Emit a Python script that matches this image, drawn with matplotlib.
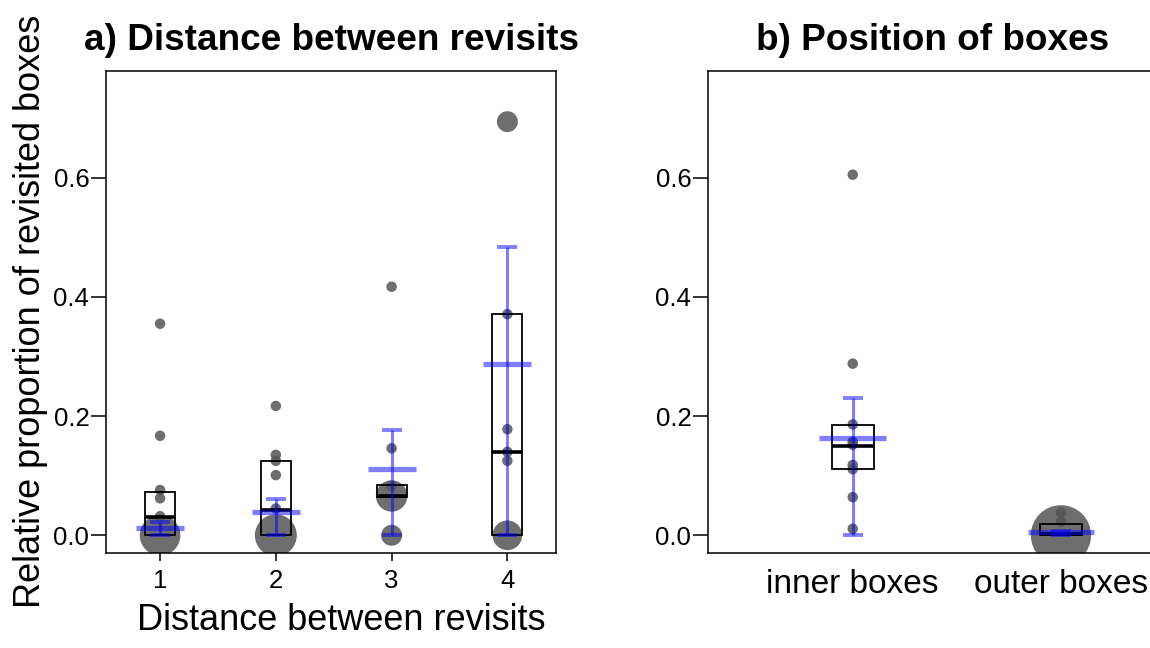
import numpy as np
import matplotlib
matplotlib.use('Agg')
import matplotlib.pyplot as plt

plt.rcParams['font.family'] = ['Liberation Sans', 'DejaVu Sans']

#%% data
# a) distance between revisits
dist_groups = [1, 2, 3, 4]
dist_points = [[0.355, 0.167, 0.076, 0.062, 0.032, 0.0],
               [0.217, 0.135, 0.125, 0.101, 0.045, 0.0],
               [0.417, 0.146, 0.082, 0.066, 0.0],
               [0.694, 0.371, 0.178, 0.140, 0.125, 0.0]]
# number of overlapping observations behind each point
dist_counts = [[1, 1, 1, 1, 1, 15],
               [1, 1, 1, 1, 1, 16],
               [1, 1, 1, 9, 4],
               [4, 1, 1, 1, 1, 8]]
dist_q1 = [0.0, 0.0, 0.065, 0.0]
dist_median = [0.031, 0.042, 0.066, 0.140]
dist_q3 = [0.073, 0.125, 0.084, 0.371]
dist_mean = [0.012, 0.039, 0.112, 0.288]
dist_lower = [0.0, 0.0, 0.0, 0.0]
dist_upper = [0.023, 0.061, 0.176, 0.484]

# b) position of boxes
pos_labels = ['inner boxes', 'outer boxes']
pos_points = [[0.605, 0.288, 0.186, 0.157, 0.152, 0.118, 0.111, 0.064, 0.011],
              [0.038, 0.023, 0.0]]
pos_counts = [[1, 1, 1, 1, 1, 1, 1, 1, 1],
              [1, 1, 33]]
pos_q1 = [0.111, 0.0]
pos_median = [0.150, 0.002]
pos_q3 = [0.185, 0.019]
pos_mean = [0.164, 0.005]
pos_lower = [0.0, 0.0]
pos_upper = [0.230, 0.008]

yticks = [0.0, 0.2, 0.4, 0.6]

POINT_SIZE = 57  # marker area for a single observation
GREY = '#555555'
BLUE = '#0000ff'


def draw_panel(ax, xs, points, counts, q1, med, q3, mean, lo, hi,
               box_w, bar_w):
    for x, ys, ns in zip(xs, points, counts):
        ax.scatter([x] * len(ys), ys, s=[POINT_SIZE * n for n in ns],
                   color=GREY, alpha=0.85, edgecolors='none', zorder=2)
    ax.bar(xs, np.array(q3) - np.array(q1), bottom=q1, width=box_w,
           fill=False, edgecolor='black', linewidth=1.3, zorder=3)
    for x, m in zip(xs, med):
        ax.hlines(m, x - box_w / 2, x + box_w / 2, color='black',
                  linewidth=2.6, zorder=4)
    yerr = [np.array(mean) - np.array(lo), np.array(hi) - np.array(mean)]
    ax.errorbar(xs, mean, yerr=yerr, fmt='none', ecolor=BLUE, alpha=0.5,
                elinewidth=2.2, capsize=7, capthick=2.8, zorder=5)
    for x, m in zip(xs, mean):
        ax.hlines(m, x - bar_w / 2, x + bar_w / 2, color=BLUE, alpha=0.5,
                  linewidth=3.8, zorder=5)
    ax.set_ylim(-0.0292, 0.7795)
    ax.set_yticks(yticks)
    ax.set_yticklabels(['%.1f' % t for t in yticks])
    ax.tick_params(axis='y', length=11, width=1.1, pad=1, labelsize=18.5)
    for sp in ax.spines.values():
        sp.set_linewidth(1.1)


#%% figure
fig = plt.figure(figsize=(11.5, 6.48), dpi=100)
axA = fig.add_axes([106 / 1150, 95.3 / 648, 450 / 1150, 482 / 648])
axB = fig.add_axes([708 / 1150, 95.3 / 648, 450 / 1150, 482 / 648])

draw_panel(axA, dist_groups, dist_points, dist_counts, dist_q1,
           dist_median, dist_q3, dist_mean, dist_lower, dist_upper,
           box_w=0.26, bar_w=0.415)
axA.set_xlim(0.533, 4.42)
axA.set_xticks(dist_groups)
axA.tick_params(axis='x', length=6, width=1.1, pad=6, labelsize=18.5)
axA.set_title('a) Distance between revisits', fontsize=26.6,
              fontweight='bold', pad=15)
axA.set_xlabel('Distance between revisits', fontsize=26)
axA.xaxis.set_label_coords(0.522, -0.105)
axA.set_ylabel('Relative proportion of revisited boxes', fontsize=26,
               labelpad=4)

pos_x = [1, 2]
draw_panel(axB, pos_x, pos_points, pos_counts, pos_q1, pos_median,
           pos_q3, pos_mean, pos_lower, pos_upper, box_w=0.2, bar_w=0.32)
axB.set_xlim(0.305, 2.466)
axB.set_xticks(pos_x)
axB.set_xticklabels(pos_labels)
axB.tick_params(axis='x', length=0, pad=12, labelsize=24)
axB.set_title('b) Position of boxes', fontsize=26.6, fontweight='bold',
              pad=15)

fig.savefig('out.png', dpi=100)
